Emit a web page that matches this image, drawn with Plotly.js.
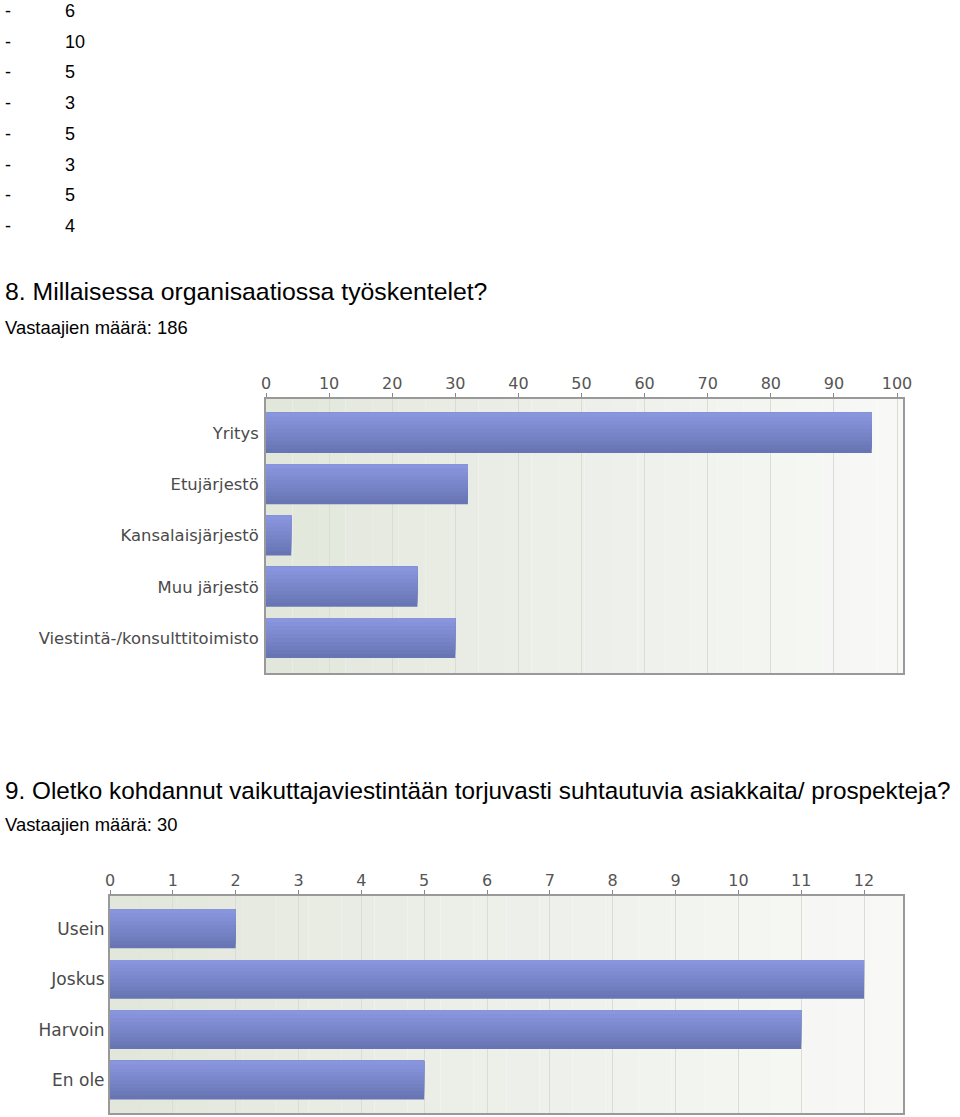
<!DOCTYPE html>
<html><head><meta charset="utf-8">
<script src="https://cdn.plot.ly/plotly-3.0.1.min.js"></script>
<style>
body{margin:0;background:#fff;font-family:"Liberation Sans",Arial,sans-serif;color:#000;}
.abs{position:absolute;white-space:nowrap;}
.li{font-size:18px;line-height:22px;}
.t{line-height:28px;}
.s{font-size:18.4px;line-height:22px;}
</style></head>
<body>
<div id="list"></div>
<div class="abs t" id="q8" style="left:5px;top:278px;font-size:24.8px;"></div>
<div class="abs s" id="n8" style="left:5px;top:317px;"></div>
<div class="abs" id="c1" style="left:0;top:340px;width:960px;height:350px;"></div>
<div class="abs t" id="q9" style="left:5px;top:777px;font-size:24.3px;"></div>
<div class="abs s" id="n9" style="left:5px;top:814px;"></div>
<div class="abs" id="c2" style="left:0;top:850px;width:960px;height:267px;"></div>
<script>
// data
const listValues = [6, 10, 5, 3, 5, 3, 5, 4];
const q8Title = "8. Millaisessa organisaatiossa työskentelet?";
const q8Count = "Vastaajien määrä: 186";
const q8Categories = ["Yritys", "Etujärjestö", "Kansalaisjärjestö", "Muu järjestö", "Viestintä-/konsulttitoimisto"];
const q8Values = [96, 32, 4, 24, 30];
const q8Ticks = [0, 10, 20, 30, 40, 50, 60, 70, 80, 90, 100];
const q9Title = "9. Oletko kohdannut vaikuttajaviestintään torjuvasti suhtautuvia asiakkaita/ prospekteja?";
const q9Count = "Vastaajien määrä: 30";
const q9Categories = ["Usein", "Joskus", "Harvoin", "En ole"];
const q9Values = [2, 12, 11, 5];
const q9Ticks = [0,1,2,3,4,5,6,7,8,9,10,11,12];

// list
const list = document.getElementById('list');
listValues.forEach((v, i) => {
  const top = i * 30.7;
  const d = document.createElement('div');
  d.className = 'abs li'; d.style.left = '5px'; d.style.top = top + 'px'; d.textContent = '-';
  const n = document.createElement('div');
  n.className = 'abs li'; n.style.left = '65px'; n.style.top = top + 'px'; n.textContent = String(v);
  list.appendChild(d); list.appendChild(n);
});
document.getElementById('q8').textContent = q8Title;
document.getElementById('n8').textContent = q8Count;
document.getElementById('q9').textContent = q9Title;
document.getElementById('n9').textContent = q9Count;

function bgShapes(){
  const shapes = [];
  const N = 24;
  const c0 = [226, 231, 220], c1 = [248, 249, 246];
  for (let i = 0; i < N; i++) {
    const f = i / (N - 1);
    const c = c0.map((a, k) => Math.round(a + (c1[k] - a) * f));
    shapes.push({type:'rect', xref:'paper', yref:'paper', x0:i/N, x1:(i+1)/N, y0:0, y1:1,
      fillcolor:`rgb(${c.join(',')})`, line:{width:0}, layer:'below'});
  }
  return shapes;
}

function barTraces(cats, vals, w){
  const N = 10;
  const top = [137, 150, 222], bot = [104, 117, 180];
  const traces = [];
  for (let i = 0; i < N; i++) {
    const f = i / (N - 1);
    const c = bot.map((a, k) => Math.round(a + (top[k] - a) * f));
    traces.push({
      type:'bar', orientation:'h', y:cats, x:vals,
      width: w * (1 - i / N), offset: -w/2,
      marker:{color:`rgb(${c.join(',')})`, line:{width:0}},
      hoverinfo:'skip', showlegend:false
    });
  }
  return traces;
}

const tickFamily = '"DejaVu Sans", Verdana, sans-serif';
function layoutFor(cats, ticks, xmax, yr, margin, catSize, standoff){
  return {
    barmode:'overlay',
    margin: margin,
    paper_bgcolor:'#ffffff',
    plot_bgcolor:'rgba(0,0,0,0)',
    showlegend:false,
    font:{family:tickFamily, color:'#444'},
    xaxis:{side:'top', range:[0, xmax], tickvals:ticks, ticktext:ticks.map(String),
      showgrid:true, gridcolor:'#d9ddd4', gridwidth:1, zeroline:false,
      ticks:'outside', ticklen:4, tickcolor:'#888', ticklabelstandoff:-2,
      showline:true, linecolor:'#999', linewidth:2, mirror:true,
      tickfont:{family:tickFamily, size:16, color:'#555'}, fixedrange:true},
    yaxis:{type:'category', categoryarray:cats, range:yr,
      showgrid:false, zeroline:false, ticks:'', showline:true, linecolor:'#999', linewidth:2, mirror:true,
      tickfont:{family:tickFamily, size:catSize, color:'#4a4a4a'}, ticklabelstandoff:standoff, fixedrange:true},
    shapes: bgShapes()
  };
}

const q8W = 0.78;
Plotly.newPlot('c1', barTraces(q8Categories, q8Values, q8W),
  layoutFor(q8Categories, q8Ticks, 100.95, [4.68, -0.66], {l:266, r:57, t:59, b:17}, 16.4, 2),
  {staticPlot:true});
const q9W = 0.77;
Plotly.newPlot('c2', barTraces(q9Categories, q9Values, q9W),
  layoutFor(q9Categories, q9Ticks, 12.62, [3.655, -0.655], {l:110, r:57, t:46, b:4}, 17, 0),
  {staticPlot:true});
</script>
</body></html>
